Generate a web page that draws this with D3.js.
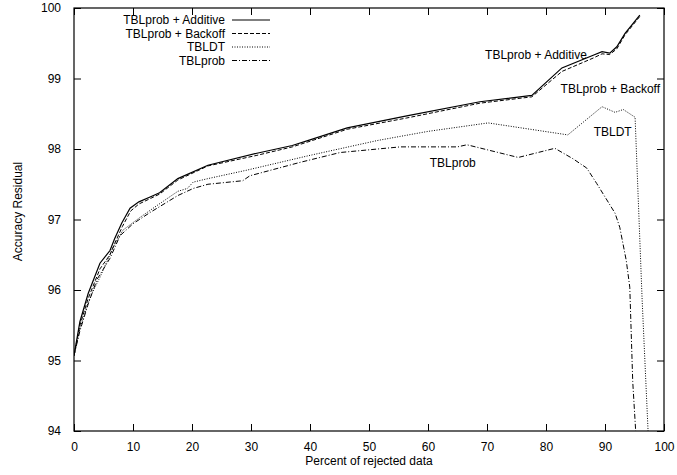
<!DOCTYPE html>
<html>
<head>
<meta charset="utf-8">
<script src="https://cdn.jsdelivr.net/npm/d3@7"></script>
<style>
  body { margin: 0; background: #fff; }
  text { font-family: "Liberation Sans", Arial, sans-serif; font-size: 12px; fill: #000; }
</style>
</head>
<body>
<div id="chart"></div>
<script>
// series data
var addX = [0, 1, 2.4, 4.4, 6.1, 6.9, 8.1, 9.5, 11, 12.9, 14.5, 17.6, 22.7, 31, 37, 40, 46.3, 56.4, 68.8, 77.6, 82.7, 88, 89.5, 90.8, 92, 93.4, 95.9];
var addY = [95.07, 95.55, 95.95, 96.38, 96.56, 96.73, 96.95, 97.16, 97.25, 97.32, 97.38, 97.58, 97.77, 97.94, 98.05, 98.13, 98.30, 98.47, 98.67, 98.76, 99.15, 99.33, 99.38, 99.36, 99.45, 99.64, 99.9];

var backX = [0, 1, 2.4, 4.4, 6.1, 7, 8.2, 9.6, 11, 13, 14.5, 17.6, 22.7, 31, 37, 40, 46.3, 56.4, 68.8, 77.6, 82.7, 88, 89.5, 90.8, 92, 93.4, 95.9];
var backY = [95.07, 95.5, 95.88, 96.3, 96.5, 96.68, 96.9, 97.12, 97.22, 97.3, 97.36, 97.56, 97.76, 97.91, 98.03, 98.11, 98.28, 98.44, 98.65, 98.74, 99.1, 99.29, 99.35, 99.34, 99.42, 99.62, 99.88];

var dtX = [0, 1, 2.4, 3.2, 4.4, 6.6, 8.3, 11.2, 14.1, 17.6, 19.2, 20.2, 22.7, 29.3, 40, 51.4, 60, 70.2, 83.7, 89.5, 91.7, 93.1, 95.1, 96.3, 97.3];
var dtY = [95.07, 95.45, 95.82, 95.98, 96.18, 96.6, 96.85, 97.03, 97.2, 97.4, 97.44, 97.53, 97.58, 97.7, 97.91, 98.12, 98.25, 98.37, 98.2, 98.6, 98.52, 98.56, 98.45, 95.85, 94.0];

var probX = [0, 1, 2.4, 3.9, 6.1, 7.8, 10, 12.9, 17.6, 20.2, 22.7, 28.6, 29.8, 38.3, 45.1, 55.3, 65, 66.6, 75.3, 81.5, 84.6, 86.9, 88.6, 90, 91.7, 92.5, 93.6, 94.2, 94.7, 95.2];
var probY = [95.07, 95.42, 95.8, 96.15, 96.45, 96.77, 96.94, 97.1, 97.34, 97.44, 97.5, 97.55, 97.62, 97.81, 97.95, 98.03, 98.03, 98.06, 97.88, 98.01, 97.86, 97.73, 97.51, 97.32, 97.09, 96.89, 96.42, 96.04, 94.7, 94.0];

var seriesNames = ["TBLprob + Additive", "TBLprob + Backoff", "TBLDT", "TBLprob"];
var xTicks = [0, 10, 20, 30, 40, 50, 60, 70, 80, 90, 100];
var yTicks = [94, 95, 96, 97, 98, 99, 100];

// in-plot labels: [name, x value, y value]
var curveLabels = [
  ["TBLprob + Additive", 78.3, 99.33],
  ["TBLprob + Backoff", 90.9, 98.86],
  ["TBLDT", 91.3, 98.24],
  ["TBLprob", 64.2, 97.8]
];

var margin = {top: 8, right: 13, bottom: 44, left: 74},
    width = 677 - margin.left - margin.right,
    height = 475 - margin.top - margin.bottom;

var svg = d3.select("#chart").append("svg")
    .attr("width", 677)
    .attr("height", 475)
  .append("g")
    .attr("transform", "translate(" + margin.left + "," + margin.top + ")");

var xScale = d3.scaleLinear().domain([0, 100]).range([0, width]);
var yScale = d3.scaleLinear().domain([94, 100]).range([height, 0]);

svg.append("clipPath").attr("id", "clip")
  .append("rect").attr("width", width).attr("height", height);

// axes with inward ticks, mirrored like gnuplot
var tick = 7;
svg.append("g")
    .attr("transform", "translate(0," + height + ")")
    .call(d3.axisBottom(xScale).tickValues(xTicks).tickSize(-tick).tickPadding(tick + 4).tickFormat(d3.format("d")));
svg.append("g")
    .call(d3.axisTop(xScale).tickValues(xTicks).tickSize(-tick).tickFormat(""));
svg.append("g")
    .call(d3.axisLeft(yScale).tickValues(yTicks).tickSize(-tick).tickPadding(tick + 6).tickFormat(d3.format("d")));
svg.append("g")
    .attr("transform", "translate(" + width + ",0)")
    .call(d3.axisRight(yScale).tickValues(yTicks).tickSize(-tick).tickFormat(""));

svg.selectAll(".domain").remove();
svg.selectAll(".tick line").attr("stroke", "#000");
svg.selectAll(".tick text").style("font-size", "12px");

svg.append("rect")
    .attr("width", width).attr("height", height)
    .attr("fill", "none").attr("stroke", "#000").attr("stroke-width", 1.2);

// axis labels
svg.append("text")
    .attr("x", width / 2)
    .attr("y", height + 34)
    .style("text-anchor", "middle")
    .text("Percent of rejected data");

svg.append("text")
    .attr("transform", "rotate(-90)")
    .attr("x", -(height / 2) + 8)
    .attr("y", -52)
    .style("text-anchor", "middle")
    .text("Accuracy Residual");

var styles = [
  {dash: null, width: 1.2},
  {dash: "4,2", width: 1},
  {dash: "1,1.5", width: 1},
  {dash: "5,2,1,2", width: 1}
];
var allX = [addX, backX, dtX, probX];
var allY = [addY, backY, dtY, probY];

var line = d3.line()
    .x(function(d) { return xScale(d[0]); })
    .y(function(d) { return yScale(d[1]); });

var plot = svg.append("g").attr("clip-path", "url(#clip)");
for (var i = 0; i < 4; i++) {
  var pts = allX[i].map(function(x, j) { return [x, allY[i][j]]; });
  plot.append("path")
      .datum(pts)
      .attr("fill", "none")
      .attr("stroke", "#000")
      .attr("stroke-width", styles[i].width)
      .attr("stroke-dasharray", styles[i].dash)
      .attr("d", line);
}

// legend
var legend = svg.append("g");
for (var k = 0; k < 4; k++) {
  var ly = 12 + k * 13.5;
  legend.append("text")
      .attr("x", 151)
      .attr("y", ly)
      .attr("dy", "0.35em")
      .style("text-anchor", "end")
      .text(seriesNames[k]);
  legend.append("line")
      .attr("x1", 158).attr("x2", 196)
      .attr("y1", ly).attr("y2", ly)
      .attr("stroke", "#000")
      .attr("stroke-width", styles[k].width)
      .attr("stroke-dasharray", styles[k].dash);
}

// curve labels
svg.selectAll(".clabel")
    .data(curveLabels)
  .enter().append("text")
    .attr("class", "clabel")
    .attr("x", function(d) { return xScale(d[1]); })
    .attr("y", function(d) { return yScale(d[2]); })
    .attr("dy", "0.35em")
    .style("text-anchor", "middle")
    .text(function(d) { return d[0]; });
</script>
</body>
</html>
